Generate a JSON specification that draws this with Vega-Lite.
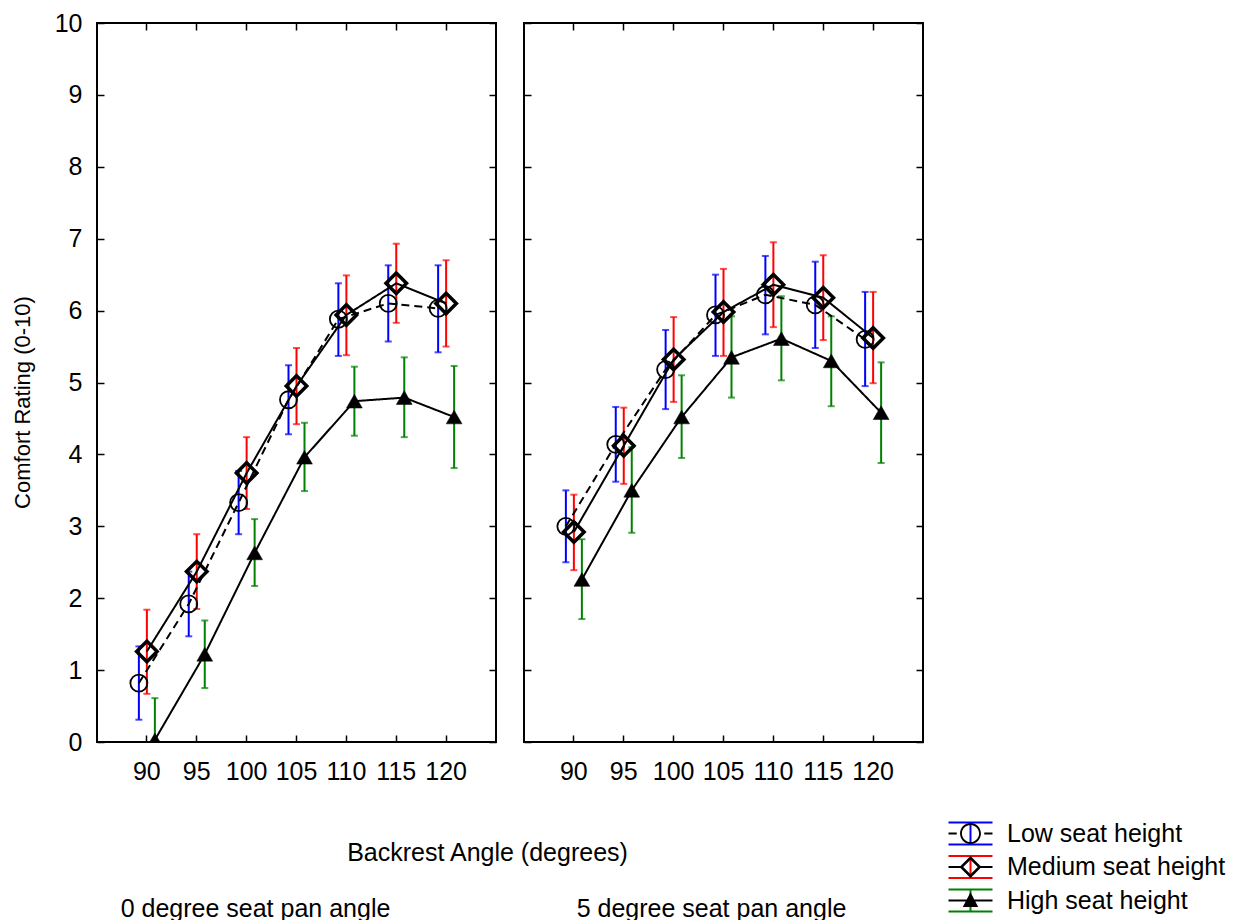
{
  "$schema": "https://vega.github.io/schema/vega-lite/v6.json",
  "padding": {"left": 10, "top": 10, "right": 6, "bottom": 0},
  "spacing": 28,
  "bounds": "flush",
  "data": {
    "values": [
      {"pan": 0, "angle": 90, "series": "Low", "mean": 0.82, "lo": 0.31, "hi": 1.33},
      {"pan": 0, "angle": 95, "series": "Low", "mean": 1.92, "lo": 1.47, "hi": 2.37},
      {"pan": 0, "angle": 100, "series": "Low", "mean": 3.33, "lo": 2.89, "hi": 3.77},
      {"pan": 0, "angle": 105, "series": "Low", "mean": 4.76, "lo": 4.28, "hi": 5.24},
      {"pan": 0, "angle": 110, "series": "Low", "mean": 5.88, "lo": 5.37, "hi": 6.38},
      {"pan": 0, "angle": 115, "series": "Low", "mean": 6.10, "lo": 5.57, "hi": 6.63},
      {"pan": 0, "angle": 120, "series": "Low", "mean": 6.03, "lo": 5.42, "hi": 6.63},
      {"pan": 0, "angle": 90, "series": "Medium", "mean": 1.26, "lo": 0.67, "hi": 1.84},
      {"pan": 0, "angle": 95, "series": "Medium", "mean": 2.37, "lo": 1.85, "hi": 2.89},
      {"pan": 0, "angle": 100, "series": "Medium", "mean": 3.74, "lo": 3.24, "hi": 4.24},
      {"pan": 0, "angle": 105, "series": "Medium", "mean": 4.95, "lo": 4.42, "hi": 5.48},
      {"pan": 0, "angle": 110, "series": "Medium", "mean": 5.94, "lo": 5.38, "hi": 6.49},
      {"pan": 0, "angle": 115, "series": "Medium", "mean": 6.38, "lo": 5.83, "hi": 6.93},
      {"pan": 0, "angle": 120, "series": "Medium", "mean": 6.10, "lo": 5.50, "hi": 6.70},
      {"pan": 0, "angle": 90, "series": "High", "mean": 0.03, "lo": -0.55, "hi": 0.61},
      {"pan": 0, "angle": 95, "series": "High", "mean": 1.22, "lo": 0.75, "hi": 1.69},
      {"pan": 0, "angle": 100, "series": "High", "mean": 2.63, "lo": 2.17, "hi": 3.10},
      {"pan": 0, "angle": 105, "series": "High", "mean": 3.96, "lo": 3.49, "hi": 4.44},
      {"pan": 0, "angle": 110, "series": "High", "mean": 4.74, "lo": 4.26, "hi": 5.22},
      {"pan": 0, "angle": 115, "series": "High", "mean": 4.79, "lo": 4.24, "hi": 5.35},
      {"pan": 0, "angle": 120, "series": "High", "mean": 4.52, "lo": 3.81, "hi": 5.23},
      {"pan": 5, "angle": 90, "series": "Low", "mean": 3.00, "lo": 2.50, "hi": 3.50},
      {"pan": 5, "angle": 95, "series": "Low", "mean": 4.14, "lo": 3.62, "hi": 4.66},
      {"pan": 5, "angle": 100, "series": "Low", "mean": 5.18, "lo": 4.63, "hi": 5.73},
      {"pan": 5, "angle": 105, "series": "Low", "mean": 5.94, "lo": 5.37, "hi": 6.50},
      {"pan": 5, "angle": 110, "series": "Low", "mean": 6.22, "lo": 5.67, "hi": 6.76},
      {"pan": 5, "angle": 115, "series": "Low", "mean": 6.08, "lo": 5.48, "hi": 6.68},
      {"pan": 5, "angle": 120, "series": "Low", "mean": 5.60, "lo": 4.95, "hi": 6.26},
      {"pan": 5, "angle": 90, "series": "Medium", "mean": 2.92, "lo": 2.39, "hi": 3.44},
      {"pan": 5, "angle": 95, "series": "Medium", "mean": 4.12, "lo": 3.59, "hi": 4.65},
      {"pan": 5, "angle": 100, "series": "Medium", "mean": 5.32, "lo": 4.73, "hi": 5.91},
      {"pan": 5, "angle": 105, "series": "Medium", "mean": 5.98, "lo": 5.37, "hi": 6.58},
      {"pan": 5, "angle": 110, "series": "Medium", "mean": 6.36, "lo": 5.77, "hi": 6.95},
      {"pan": 5, "angle": 115, "series": "Medium", "mean": 6.18, "lo": 5.59, "hi": 6.77},
      {"pan": 5, "angle": 120, "series": "Medium", "mean": 5.62, "lo": 4.99, "hi": 6.26},
      {"pan": 5, "angle": 90, "series": "High", "mean": 2.26, "lo": 1.71, "hi": 2.82},
      {"pan": 5, "angle": 95, "series": "High", "mean": 3.50, "lo": 2.91, "hi": 4.10},
      {"pan": 5, "angle": 100, "series": "High", "mean": 4.52, "lo": 3.95, "hi": 5.10},
      {"pan": 5, "angle": 105, "series": "High", "mean": 5.35, "lo": 4.79, "hi": 5.92},
      {"pan": 5, "angle": 110, "series": "High", "mean": 5.61, "lo": 5.03, "hi": 6.20},
      {"pan": 5, "angle": 115, "series": "High", "mean": 5.30, "lo": 4.67, "hi": 5.92},
      {"pan": 5, "angle": 120, "series": "High", "mean": 4.58, "lo": 3.88, "hi": 5.28}
    ]
  },
  "resolve": {
    "scale": {"color": "independent", "shape": "independent"},
    "legend": {"color": "independent", "shape": "independent"}
  },
  "hconcat": [
    {
      "width": 399,
      "height": 719,
      "transform": [{"filter": "datum.pan === 0"}],
      "encoding": {
        "x": {"field": "angle", "type": "ordinal", "scale": {"type": "band", "domain": [90, 95, 100, 105, 110, 115, 120], "paddingInner": 0, "paddingOuter": 0.5}, "axis": null},
        "xOffset": {"field": "series", "type": "nominal", "scale": {"type": "point", "domain": ["Low", "Medium", "High"], "range": [16.94, 32.94], "padding": 0}}
      },
      "resolve": {"axis": {"x": "independent", "y": "independent"}},
      "layer": [
        {
          "mark": {"type": "point", "filled": true, "opacity": 0},
          "encoding": {
            "y": {"field": "mean", "type": "quantitative", "scale": {"domain": [0, 10], "nice": false, "zero": false}, "axis": null},
            "color": {"field": "series", "type": "nominal", "sort": ["Low", "Medium", "High"], "scale": {"range": ["#0000ff", "#ff0000", "#008000"]},
                      "legend": {"orient": "none", "legendX": 861, "legendY": 798, "title": null, "padding": 0,
                                 "symbolType": "M-2,-1.09H2V-0.91H-2ZM-2,0.91H2V1.09H-2ZM-0.09,-0.91H0.09V0.91H-0.09ZM-0.004,-1.1818H0.004V-1.1736H-0.004ZM-0.004,1.1736H0.004V1.1818H-0.004Z",
                                 "symbolSize": 484, "symbolOpacity": 1, "symbolStrokeWidth": 0, "labelExpr": "datum.label + ' seat height'", "labelFontSize": 25, "labelColor": "black", "labelOpacity": 0, "labelOffset": 24, "labelLimit": 400, "rowPadding": 6.5}}
          }
        },
        {
          "mark": {"type": "rule", "strokeWidth": 2, "clip": true},
          "encoding": {
            "x": {"field": "angle", "type": "ordinal", "scale": {"type": "band", "domain": [90, 95, 100, 105, 110, 115, 120], "paddingInner": 0, "paddingOuter": 0.5},
                  "axis": {"labelAngle": 0, "labelPadding": 24, "title": "Backrest Angle (degrees)", "titleX": 390, "titleY": 110, "titleBaseline": "middle", "titleFontSize": 25}},
            "y": {"field": "lo", "type": "quantitative", "scale": {"domain": [0, 10], "nice": false, "zero": false},
                  "axis": {"values": [0, 1, 2, 3, 4, 5, 6, 7, 8, 9, 10], "labelPadding": 22, "title": "Comfort Rating (0-10)", "titleX": -75, "titleY": 379, "titleBaseline": "middle", "titleFontSize": 22}},
            "y2": {"field": "hi"},
            "color": {"field": "series", "type": "nominal", "sort": ["Low", "Medium", "High"], "scale": {"range": ["#0000ff", "#ff0000", "#008000"]}, "legend": null}
          }
        },
        {
          "mark": {"type": "tick", "orient": "horizontal", "size": 7, "thickness": 2, "clip": true},
          "encoding": {
            "y": {"field": "lo", "type": "quantitative", "scale": {"domain": [0, 10], "nice": false, "zero": false}, "axis": null},
            "color": {"field": "series", "type": "nominal", "sort": ["Low", "Medium", "High"], "scale": {"range": ["#0000ff", "#ff0000", "#008000"]}, "legend": null}
          }
        },
        {
          "mark": {"type": "tick", "orient": "horizontal", "size": 7, "thickness": 2, "clip": true},
          "encoding": {
            "y": {"field": "hi", "type": "quantitative", "scale": {"domain": [0, 10], "nice": false, "zero": false}, "axis": null},
            "color": {"field": "series", "type": "nominal", "sort": ["Low", "Medium", "High"], "scale": {"range": ["#0000ff", "#ff0000", "#008000"]}, "legend": null}
          }
        },
        {
          "mark": {"type": "line", "color": "black", "strokeWidth": 2, "clip": true},
          "encoding": {
            "y": {"field": "mean", "type": "quantitative", "scale": {"domain": [0, 10], "nice": false, "zero": false}, "axis": null},
            "detail": {"field": "series"},
            "strokeDash": {"condition": {"test": "datum.series === 'Low'", "value": [8, 5]}, "value": [1, 0]}
          }
        },
        {
          "mark": {"type": "point", "stroke": "black", "opacity": 1, "clip": true},
          "encoding": {
            "x": {"field": "angle", "type": "ordinal", "scale": {"type": "band", "domain": [90, 95, 100, 105, 110, 115, 120], "paddingInner": 0, "paddingOuter": 0.5},
                  "axis": {"orient": "top", "labels": false, "title": "0 degree seat pan angle", "titleX": 158, "titleY": 885, "titleBaseline": "middle", "titleFontSize": 25}},
            "y": {"field": "mean", "type": "quantitative", "scale": {"domain": [0, 10], "nice": false, "zero": false},
                  "axis": {"orient": "right", "values": [0, 1, 2, 3, 4, 5, 6, 7, 8, 9, 10], "labels": false, "title": null}},
            "shape": {"condition": [{"test": "datum.series === 'Low'", "value": "circle"}, {"test": "datum.series === 'Medium'", "value": "diamond"}], "value": "triangle-up"},
            "fill": {"condition": {"test": "datum.series === 'High'", "value": "black"}, "value": "transparent"},
            "size": {"condition": [{"test": "datum.series === 'Medium'", "value": 420}, {"test": "datum.series === 'High'", "value": 250}], "value": 290},
            "strokeWidth": {"condition": [{"test": "datum.series === 'Medium'", "value": 3.5}, {"test": "datum.series === 'High'", "value": 0.5}], "value": 1.8}
          }
        }
      ]
    },
    {
      "width": 399,
      "height": 719,
      "transform": [{"filter": "datum.pan === 5"}],
      "encoding": {
        "x": {"field": "angle", "type": "ordinal", "scale": {"type": "band", "domain": [90, 95, 100, 105, 110, 115, 120], "paddingInner": 0, "paddingOuter": 0.5}, "axis": null},
        "xOffset": {"field": "series", "type": "nominal", "scale": {"type": "point", "domain": ["Low", "Medium", "High"], "range": [16.94, 32.94], "padding": 0}}
      },
      "resolve": {"axis": {"x": "independent", "y": "independent"}},
      "layer": [
        {
          "mark": {"type": "rule", "strokeWidth": 2, "clip": true},
          "encoding": {
            "x": {"field": "angle", "type": "ordinal", "scale": {"type": "band", "domain": [90, 95, 100, 105, 110, 115, 120], "paddingInner": 0, "paddingOuter": 0.5},
                  "axis": {"labelAngle": 0, "labelPadding": 24, "title": null}},
            "y": {"field": "lo", "type": "quantitative", "scale": {"domain": [0, 10], "nice": false, "zero": false},
                  "axis": {"values": [0, 1, 2, 3, 4, 5, 6, 7, 8, 9, 10], "labels": false, "title": null}},
            "y2": {"field": "hi"},
            "color": {"field": "series", "type": "nominal", "sort": ["Low", "Medium", "High"], "scale": {"range": ["#0000ff", "#ff0000", "#008000"]}, "legend": null}
          }
        },
        {
          "mark": {"type": "tick", "orient": "horizontal", "size": 7, "thickness": 2, "clip": true},
          "encoding": {
            "y": {"field": "lo", "type": "quantitative", "scale": {"domain": [0, 10], "nice": false, "zero": false}, "axis": null},
            "color": {"field": "series", "type": "nominal", "sort": ["Low", "Medium", "High"], "scale": {"range": ["#0000ff", "#ff0000", "#008000"]}, "legend": null}
          }
        },
        {
          "mark": {"type": "tick", "orient": "horizontal", "size": 7, "thickness": 2, "clip": true},
          "encoding": {
            "y": {"field": "hi", "type": "quantitative", "scale": {"domain": [0, 10], "nice": false, "zero": false}, "axis": null},
            "color": {"field": "series", "type": "nominal", "sort": ["Low", "Medium", "High"], "scale": {"range": ["#0000ff", "#ff0000", "#008000"]}, "legend": null}
          }
        },
        {
          "mark": {"type": "line", "color": "black", "strokeWidth": 2, "clip": true},
          "encoding": {
            "y": {"field": "mean", "type": "quantitative", "scale": {"domain": [0, 10], "nice": false, "zero": false}, "axis": null},
            "detail": {"field": "series"},
            "strokeDash": {"condition": {"test": "datum.series === 'Low'", "value": [8, 5]}, "value": [1, 0]}
          }
        },
        {
          "mark": {"type": "point", "stroke": "black", "opacity": 1, "clip": true},
          "encoding": {
            "x": {"field": "angle", "type": "ordinal", "scale": {"type": "band", "domain": [90, 95, 100, 105, 110, 115, 120], "paddingInner": 0, "paddingOuter": 0.5},
                  "axis": {"orient": "top", "labels": false, "title": "5 degree seat pan angle", "titleX": 187, "titleY": 885, "titleBaseline": "middle", "titleFontSize": 25}},
            "y": {"field": "mean", "type": "quantitative", "scale": {"domain": [0, 10], "nice": false, "zero": false},
                  "axis": {"orient": "right", "values": [0, 1, 2, 3, 4, 5, 6, 7, 8, 9, 10], "labels": false, "title": null}},
            "shape": {"condition": [{"test": "datum.series === 'Low'", "value": "circle"}, {"test": "datum.series === 'Medium'", "value": "diamond"}], "value": "triangle-up"},
            "fill": {"condition": {"test": "datum.series === 'High'", "value": "black"}, "value": "transparent"},
            "size": {"condition": [{"test": "datum.series === 'Medium'", "value": 420}, {"test": "datum.series === 'High'", "value": 250}], "value": 290},
            "strokeWidth": {"condition": [{"test": "datum.series === 'Medium'", "value": 3.5}, {"test": "datum.series === 'High'", "value": 0.5}], "value": 1.8}
          }
        },
        {
          "mark": {"type": "point", "filled": true, "color": "black", "opacity": 0},
          "encoding": {
            "y": {"field": "mean", "type": "quantitative", "scale": {"domain": [0, 10], "nice": false, "zero": false}, "axis": null},
            "shape": {"field": "series", "type": "nominal",
                      "scale": {"domain": ["Low", "Medium", "High"],
                                "range": [
                                  "M-2,-0.09H-1.25V0.09H-2ZM1.25,-0.09H2V0.09H1.25ZM0.95,0A0.95,0.95,0,1,1,-0.95,0A0.95,0.95,0,1,1,0.95,0ZM0.78,0A0.78,0.78,0,1,0,-0.78,0A0.78,0.78,0,1,0,0.78,0ZM-0.004,-1.1818H0.004V-1.1736H-0.004ZM-0.004,1.1736H0.004V1.1818H-0.004Z",
                                  "M-2,-0.09H-0.9V0.09H-2ZM0.9,-0.09H2V0.09H0.9ZM0,-1.0L1.0,0L0,1.0L-1.0,0ZM0,-0.66L-0.66,0L0,0.66L0.66,0ZM-0.004,-1.1818H0.004V-1.1736H-0.004ZM-0.004,1.1736H0.004V1.1818H-0.004Z",
                                  "M-2,-0.09H2V0.09H-2ZM0,-0.75L0.7,0.6L-0.7,0.6ZM-0.004,-1.1818H0.004V-1.1736H-0.004ZM-0.004,1.1736H0.004V1.1818H-0.004Z"
                                ]},
                      "legend": {"orient": "none", "legendX": 434, "legendY": 798, "title": null, "padding": 0, "symbolSize": 484, "symbolOpacity": 1, "symbolFillColor": "black", "symbolStrokeWidth": 0, "labelExpr": "datum.label + ' seat height'", "labelFontSize": 25, "labelColor": "black", "labelOffset": 24, "labelLimit": 400, "rowPadding": 6.5}}
          }
        }
      ]
    }
  ],
  "config": {
    "font": "Liberation Sans",
    "view": {"stroke": "black", "strokeWidth": 2},
    "axis": {
      "grid": false, "domain": false,
      "labelFont": "Liberation Sans", "labelFontSize": 25, "labelColor": "black",
      "titleFont": "Liberation Sans", "titleFontWeight": "normal", "titleColor": "black",
      "tickColor": "black", "tickSize": -7, "tickWidth": 1.5
    },
    "legend": {"labelFont": "Liberation Sans"}
  }
}
